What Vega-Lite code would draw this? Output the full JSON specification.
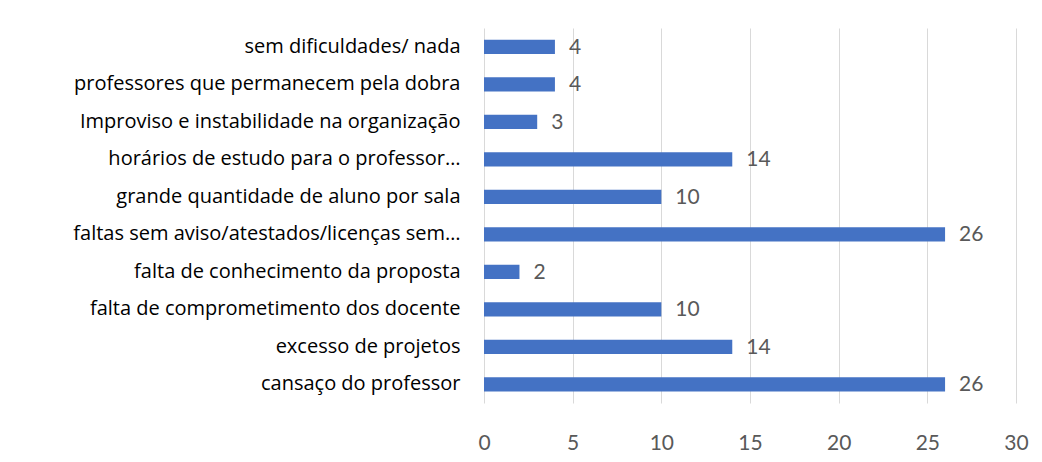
{
  "$schema": "https://vega.github.io/schema/vega-lite/v6.json",
  "width": 532,
  "height": 375,
  "autosize": {"type": "none"},
  "padding": {"left": 484, "top": 28, "right": 26, "bottom": 59},
  "background": "white",
  "config": {
    "view": {"stroke": null},
    "font": "Lato"
  },
  "data": {
    "values": [
      {"category": "sem dificuldades/ nada", "value": 4},
      {"category": "professores que permanecem pela dobra", "value": 4},
      {"category": "Improviso e instabilidade na organização\u00a0", "value": 3},
      {"category": "horários de estudo para o professor…", "value": 14},
      {"category": "grande quantidade de aluno por sala", "value": 10},
      {"category": "faltas sem aviso/atestados/licenças sem…", "value": 26},
      {"category": "falta de conhecimento da proposta", "value": 2},
      {"category": "falta de comprometimento dos docente", "value": 10},
      {"category": "excesso de projetos", "value": 14},
      {"category": "cansaço do professor", "value": 26}
    ]
  },
  "encoding": {
    "y": {
      "field": "category",
      "type": "nominal",
      "sort": null,
      "scale": {"paddingInner": 0.62, "paddingOuter": 0.31},
      "axis": {
        "title": null,
        "domain": false,
        "ticks": false,
        "labelFont": "Open Sans",
        "labelFontSize": 20,
        "labelColor": "#000000",
        "labelPadding": 24,
        "labelLimit": 480
      }
    },
    "x": {
      "field": "value",
      "type": "quantitative",
      "scale": {"domain": [0, 30], "nice": false},
      "axis": {
        "title": null,
        "values": [0, 5, 10, 15, 20, 25, 30],
        "domain": false,
        "ticks": false,
        "grid": true,
        "gridColor": "#d9d9d9",
        "gridWidth": 1,
        "labelFont": "Lato",
        "labelFontSize": 21,
        "labelColor": "#595959",
        "labelPadding": 29,
        "labelFlush": false
      }
    }
  },
  "layer": [
    {"mark": {"type": "bar", "color": "#4472C4"}},
    {
      "mark": {"type": "text", "align": "left", "baseline": "middle", "dx": 14, "dy": 1, "fontSize": 21, "color": "#595959", "font": "Lato"},
      "encoding": {"text": {"field": "value", "type": "quantitative"}}
    }
  ]
}
